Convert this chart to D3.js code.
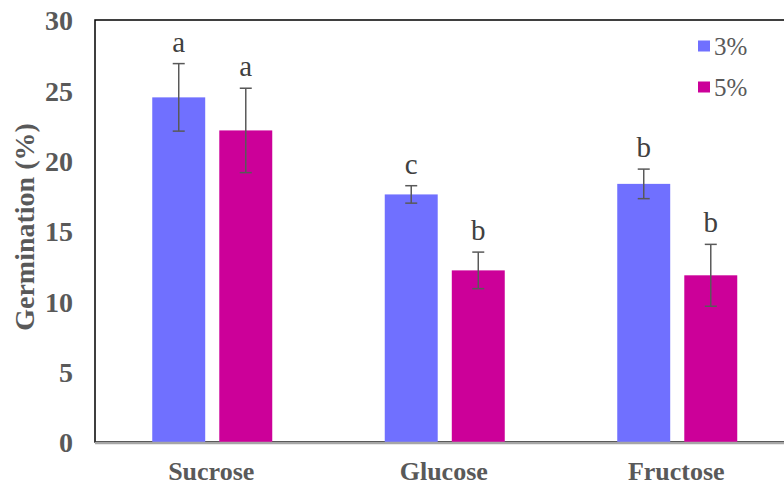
<!DOCTYPE html>
<html>
<head>
<meta charset="utf-8">
<script src="https://cdn.jsdelivr.net/npm/d3@7/dist/d3.min.js"></script>
<style>
  html, body { margin: 0; padding: 0; background: #fff; }
  svg { display: block; }
</style>
</head>
<body>
<svg id="chart" width="784" height="489"></svg>
<script>
const categories = ["Sucrose", "Glucose", "Fructose"];
const series = ["3%", "5%"];
const values3 = [24.5, 17.6, 18.35];
const values5 = [22.15, 12.2, 11.85];
const errors3 = [2.4, 0.62, 1.05];
const errors5 = [3.0, 1.3, 2.2];
const letters3 = ["a", "c", "b"];
const letters5 = ["a", "b", "b"];
const yTicks = [0, 5, 10, 15, 20, 25, 30];
const colors = ["#7070FF", "#CC0099"];

(function () {
const svg = d3.select("#chart");
const pL = 95, pT = 20, pB = 442, pR = 792.5;
const serif = "'Liberation Serif', 'Times New Roman', serif";

const x0 = d3.scaleBand().domain(categories).range([pL, pR]).padding(0);
const x1 = d3.scaleBand().domain(series).range([0, 120]).paddingInner(0.21).paddingOuter(0);
const y = d3.scaleLinear().domain([0, 30]).range([pB, pT]);

const data = [];
categories.forEach((c, i) => {
  data.push({cat: c, s: series[0], v: values3[i], e: errors3[i], l: letters3[i]});
  data.push({cat: c, s: series[1], v: values5[i], e: errors5[i], l: letters5[i]});
});
const gx = d => x0(d.cat) + x0.bandwidth() / 2 - 59 + x1(d.s);

// plot frame
svg.append("rect").attr("x", pL).attr("y", pT).attr("width", pR - pL).attr("height", pB - pT)
  .attr("fill", "none").attr("stroke", "#000").attr("stroke-width", 1.5);

// bars
svg.append("g").selectAll("rect").data(data).join("rect")
  .attr("x", d => gx(d))
  .attr("y", d => y(d.v))
  .attr("width", x1.bandwidth())
  .attr("height", d => y(0) - y(d.v))
  .attr("fill", d => colors[series.indexOf(d.s)]);

// x axis line (gray)
svg.append("line").attr("x1", pL).attr("x2", pR).attr("y1", 443).attr("y2", 443)
  .attr("stroke", "#A6A6A6").attr("stroke-width", 2.5);

// error bars
const eg = svg.append("g").attr("stroke", "#595959").attr("stroke-width", 1.5).attr("fill", "none");
data.forEach(d => {
  const cx = gx(d) + x1.bandwidth() / 2;
  const y1 = y(d.v + d.e), y2 = y(d.v - d.e);
  eg.append("line").attr("x1", cx).attr("x2", cx).attr("y1", y1).attr("y2", y2);
  eg.append("line").attr("x1", cx - 6).attr("x2", cx + 6).attr("y1", y1).attr("y2", y1);
  eg.append("line").attr("x1", cx - 6).attr("x2", cx + 6).attr("y1", y2).attr("y2", y2);
});

// significance letters
svg.append("g").selectAll("text").data(data).join("text")
  .attr("x", d => gx(d) + x1.bandwidth() / 2)
  .attr("y", d => y(d.v + d.e) - 12)
  .attr("text-anchor", "middle")
  .attr("font-family", serif)
  .attr("font-size", 29)
  .attr("fill", "#404040")
  .text(d => d.l);

// y axis
const yAxis = d3.axisLeft(y).tickValues(yTicks).tickSize(0).tickPadding(22);
const ya = svg.append("g").attr("transform", `translate(${pL},0)`).call(yAxis);
ya.select(".domain").remove();
ya.selectAll("text")
  .attr("font-family", serif)
  .attr("font-weight", "bold").attr("font-size", 28).attr("fill", "#595959")
  .attr("dy", "0.35em");

// x axis labels
const xAxis = d3.axisBottom(x0).tickSize(0).tickPadding(20);
const xa = svg.append("g").attr("transform", `translate(0,${pB})`).call(xAxis);
xa.select(".domain").remove();
xa.selectAll("text")
  .attr("font-family", serif)
  .attr("font-weight", "bold").attr("font-size", 26).attr("fill", "#595959");

// y label
svg.append("text")
  .attr("transform", `translate(34,227) rotate(-90)`)
  .attr("text-anchor", "middle")
  .attr("font-family", serif)
  .attr("font-weight", "bold").attr("font-size", 28).attr("fill", "#595959")
  .text("Germination (%)");

// legend
const lg = svg.append("g");
series.forEach((s, i) => {
  const yy = 46 + i * 41;
  lg.append("rect").attr("x", 698).attr("y", yy - 5.5).attr("width", 12).attr("height", 11).attr("fill", colors[i]);
  lg.append("text").attr("x", 714).attr("y", yy + 9)
    .attr("font-family", serif)
    .attr("font-size", 25).attr("fill", "#595959").text(s);
});
})();
</script>
</body>
</html>
